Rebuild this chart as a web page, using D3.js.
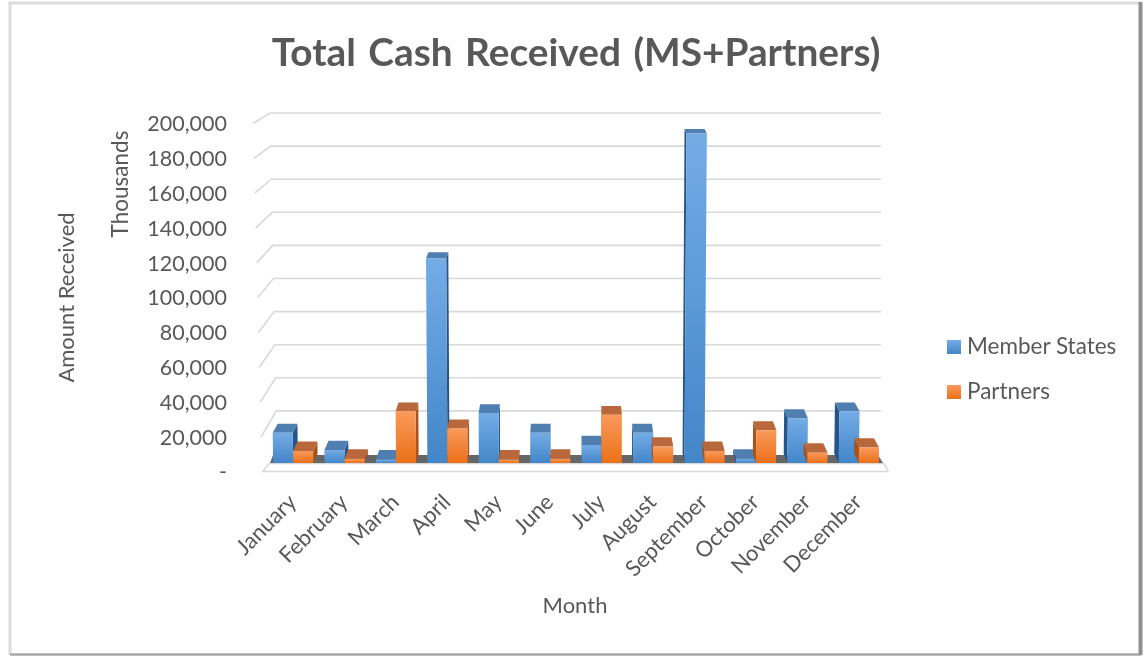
<!DOCTYPE html>
<html>
<head>
<meta charset="utf-8">
<title>Total Cash Received</title>
<script src="https://d3js.org/d3.v7.min.js"></script>
<style>
  html, body { margin: 0; padding: 0; background: #fff; }
  text { font-family: Lato, "Open Sans", sans-serif; fill: #595959; }
</style>
</head>
<body>
<div id="chart"></div>
<script>
// values in thousands
var months = ["January","February","March","April","May","June","July","August","September","October","November","December"];
var memberStates = [17500, 7500, 2000, 118500, 29000, 17500, 10500, 17500, 191000, 2500, 26000, 30000];
var partners = [7000, 2500, 30000, 20000, 2000, 2500, 28000, 9500, 7000, 19000, 6000, 9000];
var seriesNames = ["Member States", "Partners"];
var yTicks = [0, 20000, 40000, 60000, 80000, 100000, 120000, 140000, 160000, 180000, 200000];

var width = 1146, height = 656;

var svg = d3.select("#chart").append("svg")
    .attr("width", width)
    .attr("height", height)
    .style("display", "block");

var defs = svg.append("defs");
defs.append("filter").attr("id", "soft")
    .attr("x", "-5%").attr("y", "-5%").attr("width", "110%").attr("height", "110%")
    .append("feGaussianBlur").attr("stdDeviation", 0.5);

function gradient(id, top, bottom) {
    var g = defs.append("linearGradient").attr("id", id)
        .attr("x1", 0).attr("x2", 0).attr("y1", 0).attr("y2", 1);
    g.append("stop").attr("offset", 0).attr("stop-color", top);
    g.append("stop").attr("offset", 1).attr("stop-color", bottom);
}
gradient("blueFront", "#74ace6", "#4386c8");
gradient("orangeFront", "#f99a5c", "#ec7018");

var root = svg.append("g").attr("filter", "url(#soft)");

// chart frame: the four sides are not the same grey in the screenshot
var frame = root.append("g").attr("fill", "none");
frame.append("path").attr("stroke", "#dcdcdc").attr("stroke-width", 3).attr("d", "M10,655V3H1141");
frame.append("path").attr("stroke", "#a8a8a8").attr("stroke-width", 2.5).attr("d", "M10,654.5H1141");
frame.append("path").attr("stroke", "#8f8f8f").attr("stroke-width", 4).attr("d", "M1140.5,2V655");

var x = d3.scaleBand().domain(months).range([267.5, 884.5]).paddingInner(0.22).paddingOuter(0.11);
var x1 = d3.scaleBand().domain(seriesNames).range([0, x.bandwidth()]);
var y = d3.scaleLinear().domain([0, 200000]).range([463, 118]);
// back wall and tick label scales have their own perspective
var wall = d3.scaleLinear().domain([0, 200000]).range([444, 113]);
var front = d3.scaleLinear().domain([0, 200000]).range([472, 123.5]);
var labelY = d3.scaleLinear().domain([0, 200000]).range([472, 124]);

var plot = root.append("g");

// gridlines with the short slanted part on the left
plot.append("g").selectAll("path").data(yTicks.slice(1)).join("path")
    .attr("fill", "none").attr("stroke", "#d9d9d9").attr("stroke-width", 1.6)
    .attr("d", function(d) {
        var t = d / 200000;
        return d3.line()([[262 - 9 * t, front(d)], [277 - 7 * t, wall(d)], [881, wall(d)]]);
    });

// floor
var floor = plot.append("g");
floor.append("path").attr("fill", "none").attr("stroke", "#d9d9d9").attr("stroke-width", 1.6)
    .attr("d", d3.line()([[269, 463.5], [263, front(0) - 0.5], [888, front(0) - 0.5], [884, 463.5], [269, 463.5]]));
floor.append("path").attr("fill", "#666666")
    .attr("d", d3.line()([[273, 455], [878, 455], [883, 463], [270, 463]]) + "Z");

// depth of a bar: top face runs up and toward the middle of the picture,
// and gets thinner the closer it is to eye level
function depthX(px) { return (570 - px) / 60; }
function depthY(py) { return 9.5 - 5 * (y(0) - py) / 330; }
// tall bars lean away from the middle a little
function lean(px, py) { return (px - 565) * (y(0) - py) / 20000; }

var bars = [];
months.forEach(function(m, i) {
    bars.push({ month: m, name: seriesNames[0], value: memberStates[i], front: "url(#blueFront)", top: "#4f7fb0", side: "#24578a" });
    bars.push({ month: m, name: seriesNames[1], value: partners[i], front: "url(#orangeFront)", top: "#b9683a", side: "#a9521a" });
});

var bar = plot.append("g").selectAll("g").data(bars).join("g");

function leftOf(d) { return x(d.month) + x1(d.name); }
function rightOf(d) { return leftOf(d) + x1.bandwidth(); }

// side face, on whichever side the perspective shows
bar.append("path").attr("fill", function(d) { return d.side; })
    .attr("d", function(d) {
        var l = leftOf(d), r = rightOf(d), edge = depthX((l + r) / 2) > 0 ? r : l;
        var dx = depthX(edge), py = y(d.value), topX = edge + lean(edge, py);
        return d3.line()([[edge, y(0)], [edge + dx, y(0) - depthY(y(0))], [topX + dx, py - depthY(py)], [topX, py]]) + "Z";
    });
bar.append("path").attr("fill", function(d) { return d.top; })
    .attr("d", function(d) {
        var l = leftOf(d), r = rightOf(d), py = y(d.value);
        var tl = l + lean(l, py), tr = r + lean(r, py);
        return d3.line()([[tl, py], [tl + depthX(l), py - depthY(py)], [tr + depthX(r), py - depthY(py)], [tr, py]]) + "Z";
    });
bar.append("path").attr("fill", function(d) { return d.front; })
    .attr("d", function(d) {
        var l = leftOf(d), r = rightOf(d), py = y(d.value);
        return d3.line()([[l, y(0)], [l + lean(l, py), py], [r + lean(r, py), py], [r, y(0)]]) + "Z";
    });

// title
root.append("text").attr("x", 576).attr("y", 66).attr("text-anchor", "middle")
    .attr("font-size", 38.8).attr("font-weight", 700).attr("word-spacing", 3)
    .text("Total Cash Received (MS+Partners)");

// y axis labels
var yAxis = d3.axisLeft(labelY).tickValues(yTicks).tickSize(0).tickPadding(0)
    .tickFormat(function(d) { return d === 0 ? "-" : d3.format(",")(d); });
var yg = root.append("g").attr("transform", "translate(227,0)").call(yAxis);
yg.select(".domain").remove();
yg.selectAll("text").attr("font-size", 21.5).attr("font-family", "Lato").attr("dy", "0.32em").style("fill", "#595959");

// month labels, rotated
var xAxis = d3.axisBottom(x).tickSize(0).tickPadding(0);
var xg = root.append("g").call(xAxis);
xg.select(".domain").remove();
xg.selectAll(".tick").attr("transform", function(d) { return "translate(" + (x(d) + x.bandwidth() / 2 - 1) + ",498)"; });
xg.selectAll("text").attr("font-size", 22).attr("font-family", "Lato").attr("y", 0).attr("dy", "0.35em")
    .attr("text-anchor", "end").attr("transform", "rotate(-45)").style("fill", "#595959");

// axis titles
root.append("text").attr("x", 575).attr("y", 613).attr("text-anchor", "middle").attr("font-size", 22).text("Month");
root.append("text").attr("transform", "translate(74,297.5) rotate(-90)").attr("text-anchor", "middle").attr("font-size", 22).text("Amount Received");
root.append("text").attr("transform", "translate(128,184) rotate(-90)").attr("text-anchor", "middle").attr("font-size", 22.5).text("Thousands");

// legend
var legendColors = ["url(#blueFront)", "url(#orangeFront)"];
var legend = root.append("g").selectAll("g").data(seriesNames).join("g")
    .attr("transform", function(d, i) { return "translate(947," + (340 + i * 45) + ")"; });
legend.append("rect").attr("width", 14).attr("height", 14)
    .attr("fill", function(d, i) { return legendColors[i]; });
legend.append("text").attr("x", 20).attr("y", 13.5).attr("font-size", 22.5).text(function(d) { return d; });
</script>
</body>
</html>
